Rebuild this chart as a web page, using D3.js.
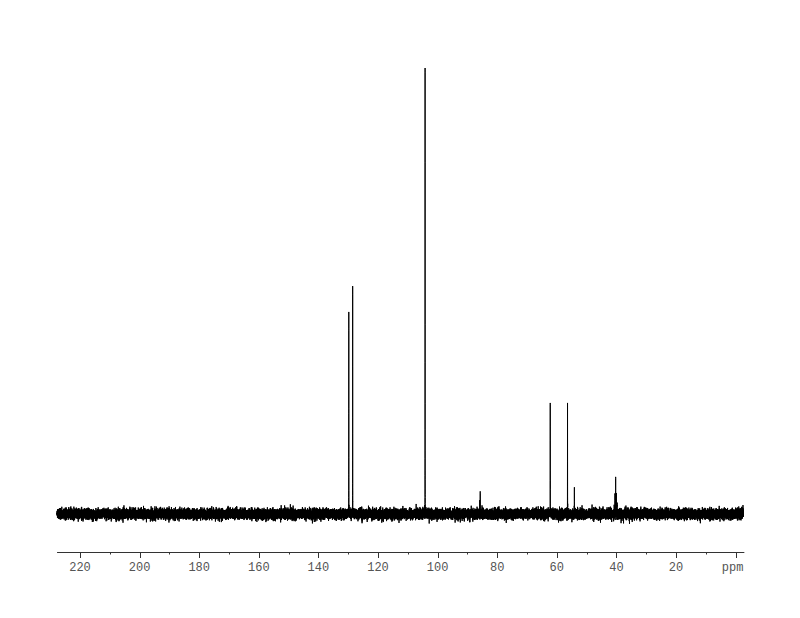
<!DOCTYPE html>
<html>
<head>
<meta charset="utf-8">
<script src="https://cdn.jsdelivr.net/npm/d3@7"></script>
<style>
  html, body { margin: 0; padding: 0; background: #fff; }
  svg { display: block; }
</style>
</head>
<body>
<svg id="chart" width="800" height="618"></svg>
<script>
// ---- Data (13C NMR spectrum) ----
const peakPpm    = [129.8, 128.5, 107.2, 104.2, 85.7, 62.2, 56.4, 54.1, 40.25, 40.0, 40.5, 39.75, 40.75];
const peakHeight = [45.3,  51.1,  2.0,   100,   4.6,  24.9, 24.9, 6.0,  8.3,   4.5,  4.5,  2.0,   2.0];
const majorTicks = [220, 200, 180, 160, 140, 120, 100, 80, 60, 40, 20, 0];
const tickLabels = ["220","200","180","160","140","120","100","80","60","40","20","ppm"];
const minorTicks = [210, 190, 170, 150, 130, 110, 90, 70, 50, 30, 10];
const ppmRange   = [227.7, -2.6];   // spectrum window (left -> right)
const noiseLevel = 0.56;            // baseline noise std-dev, in intensity units

// ---- Layout ----
const svg = d3.select("#chart");
const x = d3.scaleLinear().domain([220, 0]).range([80, 735.6]);
const y = d3.scaleLinear().domain([0, 100]).range([514, 68]);

// ---- Build spectrum: Lorentzian lines + seeded baseline noise texture ----
function mulberry32(a) {
  return function() {
    a |= 0; a = a + 0x6D2B79F5 | 0;
    let t = Math.imul(a ^ a >>> 15, 1 | a);
    t = t + Math.imul(t ^ t >>> 7, 61 | t) ^ t;
    return ((t ^ t >>> 14) >>> 0) / 4294967296;
  };
}
const rnd = mulberry32(12345);
function gauss() {
  let u = 0, v = 0;
  while (u === 0) u = rnd();
  v = rnd();
  return Math.sqrt(-2 * Math.log(u)) * Math.cos(2 * Math.PI * v);
}
const nPts = 30000;
const hw = 0.012; // half-width (ppm)
function lines(p) {
  let v = 0;
  for (let k = 0; k < peakPpm.length; k++) {
    const d = (p - peakPpm[k]) / hw;
    v += peakHeight[k] / (1 + d * d);
  }
  return v;
}
const spectrum = [];
for (let i = 0; i < nPts; i++) {
  const p = ppmRange[0] + (ppmRange[1] - ppmRange[0]) * i / (nPts - 1);
  spectrum.push([p, lines(p) + noiseLevel * gauss()]);
}
peakPpm.forEach(pp => spectrum.push([pp, lines(pp)]));
spectrum.sort((a, b) => b[0] - a[0]);

const line = d3.line().x(d => x(d[0])).y(d => y(d[1]));
svg.append("path")
  .datum(spectrum)
  .attr("d", line)
  .attr("fill", "none")
  .attr("stroke", "#000")
  .attr("stroke-width", 1);

// ---- Axis ----
const axisY = 552;
const g = svg.append("g").attr("transform", `translate(0,${axisY})`);
g.append("line")
  .attr("x1", x(ppmRange[0])).attr("x2", x(ppmRange[1]) + 1)
  .attr("y1", 0.5).attr("y2", 0.5)
  .attr("stroke", "#333").attr("stroke-width", 1);

g.selectAll(".major").data(majorTicks).join("line")
  .attr("class", "major")
  .attr("x1", d => Math.round(x(d)) + 0.5).attr("x2", d => Math.round(x(d)) + 0.5)
  .attr("y1", 0).attr("y2", 6)
  .attr("stroke", "#333");

g.selectAll(".minor").data(minorTicks).join("line")
  .attr("class", "minor")
  .attr("x1", d => Math.round(x(d)) + 0.5).attr("x2", d => Math.round(x(d)) + 0.5)
  .attr("y1", 0).attr("y2", 2.5)
  .attr("stroke", "#333");

g.selectAll(".lab").data(majorTicks).join("text")
  .attr("class", "lab")
  .attr("x", (d, i) => x(d) - (i === majorTicks.length - 1 ? 3 : 0))
  .attr("y", 19)
  .attr("text-anchor", "middle")
  .attr("font-family", "'Liberation Mono', 'DejaVu Sans Mono', monospace")
  .attr("font-size", 12)
  .attr("fill", "#555")
  .text((d, i) => tickLabels[i]);
</script>
</body>
</html>
